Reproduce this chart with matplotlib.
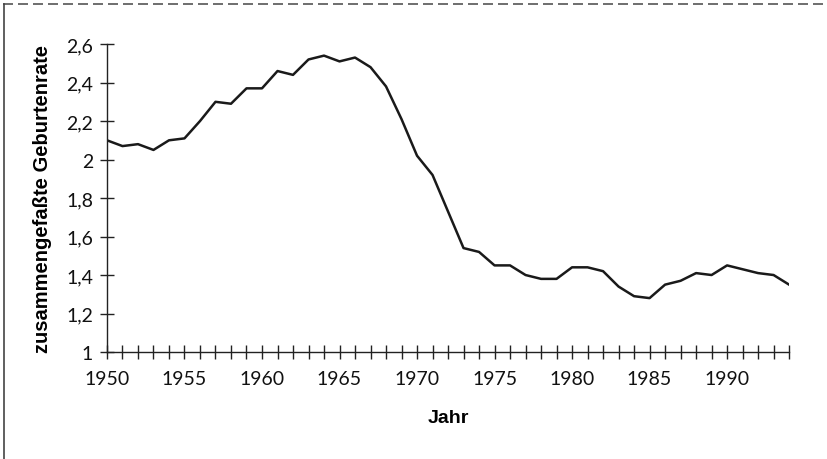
import matplotlib
matplotlib.use("Agg")
import matplotlib.pyplot as plt
from matplotlib.lines import Line2D
from matplotlib.ticker import MultipleLocator, FuncFormatter

# Zusammengefaßte Geburtenrate 1950-1994
jahre = list(range(1950, 1995))
geburtenrate = [
    2.10, 2.07, 2.08, 2.05, 2.10, 2.11, 2.20, 2.30, 2.29, 2.37,
    2.37, 2.46, 2.44, 2.52, 2.54, 2.51, 2.53, 2.48, 2.38, 2.21,
    2.02, 1.92, 1.73, 1.54, 1.52, 1.45, 1.45, 1.40, 1.38, 1.38,
    1.44, 1.44, 1.42, 1.34, 1.29, 1.28, 1.35, 1.37, 1.41, 1.40,
    1.45, 1.43, 1.41, 1.40, 1.35,
]
x_labels = [1950, 1955, 1960, 1965, 1970, 1975, 1980, 1985, 1990]
y_ticks = [1.0, 1.2, 1.4, 1.6, 1.8, 2.0, 2.2, 2.4, 2.6]

tick_font = "Lato"

fig = plt.figure(figsize=(8.28, 4.6), dpi=100)
ax = fig.add_axes([0.1292, 0.2326, 0.9530 - 0.1292, 0.902 - 0.2326])

ax.plot(jahre, geburtenrate, color="#1a1a1a", linewidth=1.8)

ax.set_xlim(1950, 1994)
ax.set_ylim(1.0, 2.6)

# Achsen wie im Original: nur links und unten
for side in ["top", "right"]:
    ax.spines[side].set_visible(False)
for side in ["left", "bottom"]:
    ax.spines[side].set_linewidth(1.0)
    ax.spines[side].set_color("#222222")

ax.set_xticks(x_labels)
ax.xaxis.set_minor_locator(MultipleLocator(1))
ax.set_yticks(y_ticks)
ax.yaxis.set_major_formatter(FuncFormatter(lambda v, p: f"{v:g}".replace(".", ",")))

ax.tick_params(axis="both", which="both", direction="inout", color="#222222", width=1.0)
ax.tick_params(axis="x", which="major", length=10, pad=8, labelsize=14)
ax.tick_params(axis="x", which="minor", length=10)
ax.tick_params(axis="y", which="major", length=10, pad=5, labelsize=14)
for lab in ax.get_xticklabels() + ax.get_yticklabels():
    lab.set_family(tick_font)
    lab.set_color("#111111")

ax.set_xlabel("Jahr", fontsize=14, fontweight="bold", family="Liberation Sans", labelpad=16)
ax.set_ylabel("zusammengefaßte Geburtenrate", fontsize=14.5, fontweight="bold",
              family="Liberation Sans", labelpad=10)

# Rahmen um das Diagramm (oben gestrichelt, links durchgezogen)
fig.add_artist(Line2D([0.004, 1.0], [0.989, 0.989], transform=fig.transFigure,
                      color="#555555", linewidth=1.2, linestyle=(0, (6, 3))))
fig.add_artist(Line2D([0.005, 0.005], [0.0, 0.989], transform=fig.transFigure,
                      color="#444444", linewidth=1.2))

fig.savefig("out.png", dpi=100)
